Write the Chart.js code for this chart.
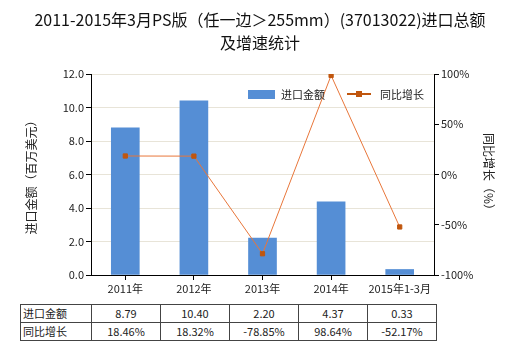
<!DOCTYPE html>
<html>
<head>
<meta charset="utf-8">
<script src="https://cdn.jsdelivr.net/npm/chart.js@4"></script>
<style>
  body { margin: 0; background: #fff; font-family: "Noto Sans CJK SC", sans-serif; }
  #wrap { position: relative; width: 520px; height: 350px; }
  #chart-box { position: absolute; left: 0; top: 0; width: 520px; height: 300px; }
  #legend { position: absolute; top: 84px; left: 248px; font-size: 11px; color: #222; white-space: nowrap; }
  #legend span { display: inline-block; vertical-align: middle; }
  .swatch { width: 27px; height: 9px; background: #558ED5; margin-right: 6px; }
  .lline { position: relative; width: 24px; height: 2px; background: #C0560E; margin-left: 22px; margin-right: 9px; }
  .lline i { position: absolute; left: 9px; top: -2px; width: 6px; height: 6px; background: #C0560E; }
  table { position: absolute; left: 20px; top: 304px; border-collapse: collapse; font-size: 11px; color: #222; }
  td { border: 1px solid #444; height: 17px; padding: 0; text-align: center; line-height: 17px; }
  td.lab { text-align: left; padding-left: 2px; width: 68px; }
  td.val { width: 68px; }
</style>
</head>
<body>
<div id="wrap">
  <div id="chart-box"><canvas id="chart"></canvas></div>
  <div id="legend"><span class="swatch"></span><span>进口金额</span><span class="lline"><i></i></span><span>同比增长</span></div>
  <table id="tbl"></table>
</div>
<script>
const categories = ['2011年', '2012年', '2013年', '2014年', '2015年1-3月'];
const importValues = [8.79, 10.40, 2.20, 4.37, 0.33];
const growthValues = [18.46, 18.32, -78.85, 98.64, -52.17];
const importLabels = ['8.79', '10.40', '2.20', '4.37', '0.33'];
const growthLabels = ['18.46%', '18.32%', '-78.85%', '98.64%', '-52.17%'];

const tbl = document.getElementById('tbl');
tbl.innerHTML =
  '<tr><td class="lab">进口金额</td>' + importLabels.map(v => `<td class="val">${v}</td>`).join('') + '</tr>' +
  '<tr><td class="lab">同比增长</td>' + growthLabels.map(v => `<td class="val">${v}</td>`).join('') + '</tr>';

const fontFamily = '"Noto Sans CJK SC", sans-serif';
Chart.defaults.font.family = fontFamily;
Chart.defaults.color = '#222';

new Chart(document.getElementById('chart'), {
  data: {
    labels: categories,
    datasets: [
      {
        type: 'line',
        label: '同比增长',
        data: growthValues,
        yAxisID: 'y1',
        borderColor: '#E8763A',
        borderWidth: 1,
        pointStyle: 'rect',
        pointRadius: 3,
        pointBackgroundColor: '#C0560E',
        pointBorderColor: '#C0560E',
        tension: 0
      },
      {
        type: 'bar',
        label: '进口金额',
        data: importValues,
        yAxisID: 'y',
        backgroundColor: '#558ED5',
        barThickness: 28
      }
    ]
  },
  options: {
    responsive: true,
    maintainAspectRatio: false,
    animation: false,
    layout: { padding: { left: 20, right: 20, top: 0, bottom: 0 } },
    plugins: {
      legend: { display: false },
      tooltip: { enabled: false },
      title: {
        display: true,
        text: ['2011-2015年3月PS版（任一边＞255mm）(37013022)进口总额', '及增速统计'],
        color: '#111',
        font: { size: 16, weight: 'normal', family: fontFamily, lineHeight: 1.44 },
        padding: { top: 8, bottom: 20 }
      }
    },
    scales: {
      x: {
        offset: true,
        grid: { offset: false, drawOnChartArea: false, tickColor: '#000', tickLength: 5 },
        border: { color: '#000' },
        ticks: { font: { size: 11 }, padding: 2, maxRotation: 0 },
        afterFit: s => { s.height = 25; }
      },
      y: {
        position: 'left',
        min: 0,
        max: 12,
        ticks: { stepSize: 2, font: { size: 11 }, padding: 2, callback: v => v.toFixed(1) },
        grid: { color: '#E8E4D8', tickColor: '#000', tickLength: 5 },
        border: { color: '#000' },
        title: { display: true, text: '进口金额（百万美元）', font: { size: 12 }, color: '#222' },
        afterFit: s => { s.width = 71; }
      },
      y1: {
        position: 'right',
        min: -100,
        max: 100,
        ticks: { stepSize: 50, font: { size: 11 }, padding: 2, callback: v => v + '%' },
        grid: { drawOnChartArea: false, tickColor: '#000', tickLength: 5 },
        border: { color: '#000' },
        title: { display: true, text: '同比增长（%）', font: { size: 12 }, color: '#222' },
        afterFit: s => { s.width = 66; }
      }
    }
  }
});
</script>
</body>
</html>
